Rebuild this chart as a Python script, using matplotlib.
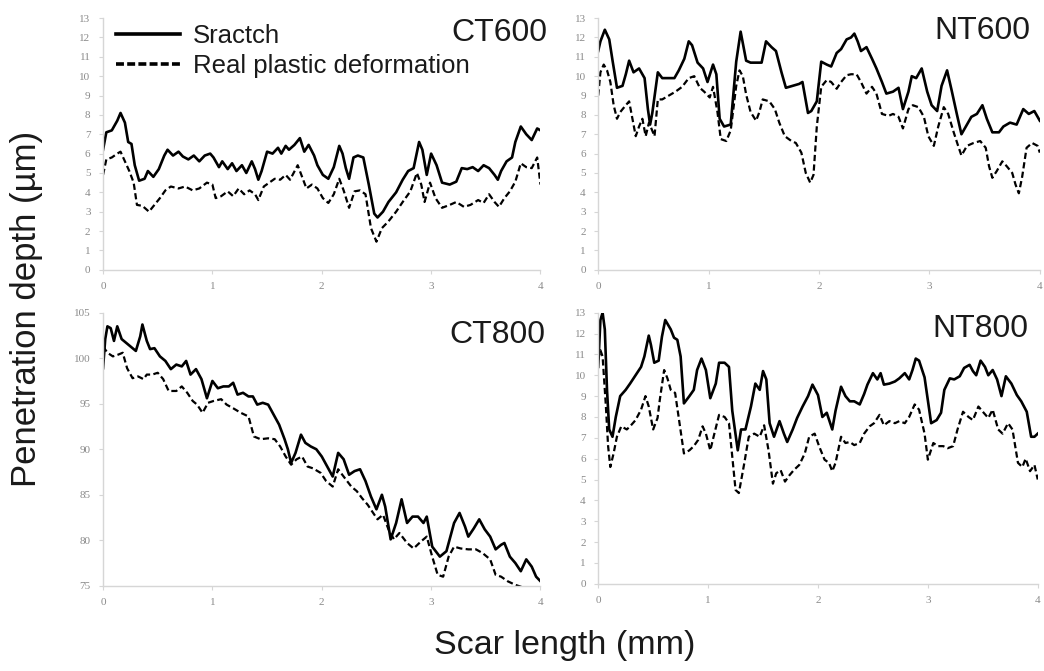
import matplotlib.pyplot as plt
from matplotlib.lines import Line2D

plt.rcParams['font.family'] = ['Liberation Sans', 'DejaVu Sans']

# CT600
ct600_x_s = [0.00, 0.03, 0.08, 0.13, 0.16, 0.20, 0.23, 0.26, 0.29, 0.33, 0.38, 0.41, 0.46, 0.51, 0.56, 0.59, 0.64, 0.69,
             0.73, 0.78, 0.83, 0.88, 0.93, 0.98, 1.01, 1.06, 1.09, 1.14, 1.18, 1.22, 1.27, 1.31, 1.36, 1.39, 1.42, 1.45,
             1.50, 1.55, 1.60, 1.63, 1.67, 1.70, 1.75, 1.80, 1.84, 1.88, 1.93, 1.96, 2.01, 2.06, 2.11, 2.16, 2.19, 2.22,
             2.25, 2.29, 2.33, 2.38, 2.43, 2.48, 2.51, 2.56, 2.61, 2.68, 2.74, 2.79, 2.84, 2.89, 2.92, 2.96, 3.00, 3.05,
             3.10, 3.17, 3.23, 3.28, 3.33, 3.38, 3.43, 3.48, 3.53, 3.58, 3.61, 3.64, 3.69, 3.74, 3.77, 3.82, 3.87, 3.92,
             3.97, 4.00]
ct600_y_s = [6.2, 7.1, 7.2, 7.7, 8.1, 7.6, 6.6, 6.5, 5.4, 4.6, 4.7, 5.1, 4.8, 5.2, 5.9, 6.2, 5.9, 6.1,
             5.85, 5.7, 5.9, 5.6, 5.9, 6.0, 5.8, 5.3, 5.6, 5.2, 5.5, 5.1, 5.4, 5.0, 5.6, 5.2, 4.65, 5.1,
             6.1, 6.0, 6.3, 6.0, 6.4, 6.2, 6.45, 6.8, 6.1, 6.45, 5.9, 5.4, 4.9, 4.7, 5.3, 6.4, 6.0, 5.25,
             4.7, 5.8, 5.9, 5.8, 4.4, 2.9, 2.7, 3.0, 3.5, 4.0, 4.65, 5.1, 5.25, 6.6, 6.2, 4.9, 6.0, 5.4,
             4.5, 4.4, 4.55, 5.25, 5.2, 5.3, 5.1, 5.4, 5.25, 4.9, 4.65, 5.1, 5.6, 5.8, 6.6, 7.4, 7.0, 6.7,
             7.3, 7.2]
ct600_x_d = [0.00, 0.03, 0.08, 0.13, 0.16, 0.20, 0.24, 0.28, 0.31, 0.36, 0.42, 0.47, 0.52, 0.57, 0.62, 0.69, 0.75, 0.82,
             0.88, 0.95, 1.00, 1.03, 1.08, 1.14, 1.19, 1.24, 1.29, 1.34, 1.39, 1.42, 1.47, 1.52, 1.57, 1.62, 1.67, 1.71,
             1.78, 1.83, 1.86, 1.91, 1.96, 2.01, 2.06, 2.11, 2.16, 2.20, 2.25, 2.30, 2.35, 2.40, 2.45, 2.50, 2.55, 2.61,
             2.68, 2.74, 2.81, 2.87, 2.91, 2.94, 2.99, 3.04, 3.10, 3.17, 3.23, 3.30, 3.36, 3.43, 3.48, 3.53, 3.58, 3.62,
             3.67, 3.72, 3.77, 3.82, 3.87, 3.92, 3.97, 4.00]
ct600_y_d = [4.9, 5.7, 5.8, 6.0, 6.1, 5.6, 5.1, 4.5, 3.35, 3.3, 3.0, 3.35, 3.7, 4.1, 4.3, 4.2, 4.3, 4.1,
             4.2, 4.5, 4.4, 3.7, 3.8, 4.05, 3.8, 4.2, 3.9, 4.1, 3.9, 3.6, 4.3, 4.5, 4.7, 4.65, 4.9, 4.65,
             5.4, 4.65, 4.2, 4.4, 4.2, 3.7, 3.45, 3.9, 4.7, 4.1, 3.2, 4.05, 4.1, 3.9, 2.15, 1.45, 2.15, 2.5,
             3.0, 3.5, 4.05, 5.0, 4.4, 3.5, 4.5, 3.7, 3.2, 3.35, 3.5, 3.25, 3.35, 3.6, 3.45, 3.9, 3.5, 3.25,
             3.7, 4.05, 4.55, 5.5, 5.3, 5.25, 5.8, 4.4]

# NT600
nt600_x_s = [0.00, 0.02, 0.06, 0.10, 0.13, 0.17, 0.22, 0.25, 0.28, 0.32, 0.37, 0.42, 0.45, 0.47, 0.49, 0.54, 0.58, 0.64,
             0.69, 0.73, 0.78, 0.82, 0.85, 0.90, 0.95, 0.99, 1.04, 1.07, 1.10, 1.14, 1.20, 1.25, 1.29, 1.34, 1.38, 1.45,
             1.48, 1.52, 1.57, 1.61, 1.66, 1.70, 1.76, 1.82, 1.85, 1.90, 1.93, 1.98, 2.02, 2.07, 2.11, 2.16, 2.20, 2.25,
             2.29, 2.32, 2.35, 2.38, 2.43, 2.48, 2.52, 2.57, 2.61, 2.67, 2.72, 2.76, 2.81, 2.84, 2.88, 2.93, 2.98, 3.02,
             3.07, 3.11, 3.16, 3.20, 3.25, 3.29, 3.34, 3.38, 3.43, 3.48, 3.52, 3.57, 3.63, 3.67, 3.73, 3.79, 3.85, 3.90,
             3.95, 4.00]
nt600_y_s = [11.3, 11.8, 12.4, 11.9, 10.8, 9.4, 9.5, 10.1, 10.8, 10.2, 10.4, 9.9, 8.3, 7.5, 8.1, 10.2, 9.9, 9.9,
             9.9, 10.3, 10.9, 11.8, 11.6, 10.7, 10.4, 9.7, 10.6, 10.1, 7.8, 7.4, 7.5, 10.75, 12.3, 10.8, 10.7, 10.7,
             10.7, 11.8, 11.5, 11.3, 10.2, 9.4, 9.5, 9.6, 9.7, 8.1, 8.2, 8.7, 10.75, 10.6, 10.5, 11.2, 11.4, 11.9,
             12.0, 12.2, 11.8, 11.3, 11.5, 10.9, 10.4, 9.7, 9.1, 9.2, 9.4, 8.3, 9.2, 10.0, 9.9, 10.4, 9.2, 8.5,
             8.2, 9.5, 10.3, 9.3, 8.0, 7.0, 7.5, 7.9, 8.05, 8.5, 7.8, 7.1, 7.1, 7.4, 7.6, 7.5, 8.3, 8.05,
             8.2, 7.7]
nt600_x_d = [0.00, 0.02, 0.05, 0.08, 0.11, 0.14, 0.17, 0.20, 0.25, 0.28, 0.31, 0.34, 0.37, 0.40, 0.43, 0.46, 0.51, 0.54,
             0.58, 0.64, 0.70, 0.76, 0.82, 0.87, 0.92, 0.96, 1.01, 1.04, 1.08, 1.11, 1.16, 1.20, 1.25, 1.28, 1.31, 1.34,
             1.38, 1.43, 1.46, 1.49, 1.55, 1.60, 1.64, 1.69, 1.75, 1.79, 1.84, 1.88, 1.92, 1.95, 1.98, 2.02, 2.07, 2.11,
             2.16, 2.20, 2.25, 2.29, 2.34, 2.38, 2.43, 2.48, 2.52, 2.57, 2.63, 2.67, 2.72, 2.76, 2.81, 2.85, 2.90, 2.95,
             2.99, 3.04, 3.08, 3.13, 3.17, 3.22, 3.26, 3.29, 3.34, 3.40, 3.46, 3.51, 3.54, 3.57, 3.61, 3.66, 3.70, 3.75,
             3.78, 3.81, 3.84, 3.88, 3.93, 3.98, 4.00]
nt600_y_d = [9.0, 10.2, 10.6, 10.3, 9.7, 8.5, 7.8, 8.15, 8.5, 8.7, 7.8, 6.9, 7.4, 7.8, 6.9, 7.6, 6.9, 8.8,
             8.8, 9.0, 9.2, 9.45, 9.9, 10.0, 9.4, 9.2, 8.9, 9.45, 8.15, 6.75, 6.65, 7.2, 9.5, 10.3, 10.0, 9.05,
             8.15, 7.7, 8.15, 8.8, 8.7, 8.3, 7.6, 6.9, 6.65, 6.55, 6.05, 5.0, 4.5, 4.9, 7.4, 9.45, 9.8, 9.7,
             9.35, 9.7, 10.05, 10.1, 10.1, 9.7, 9.1, 9.45, 9.1, 8.05, 7.95, 8.05, 7.9, 7.3, 8.3, 8.5, 8.4, 7.9,
             6.9, 6.4, 7.4, 8.4, 8.05, 7.1, 6.4, 5.9, 6.4, 6.55, 6.65, 6.3, 5.35, 4.75, 5.1, 5.6, 5.35, 5.0,
             4.4, 3.95, 4.8, 6.3, 6.55, 6.4, 6.05]

# CT800
ct800_x_s = [0.00, 0.02, 0.04, 0.07, 0.10, 0.13, 0.17, 0.21, 0.25, 0.30, 0.34, 0.36, 0.40, 0.43, 0.47, 0.52, 0.57, 0.62,
             0.67, 0.72, 0.76, 0.80, 0.85, 0.90, 0.95, 1.00, 1.05, 1.10, 1.15, 1.19, 1.23, 1.28, 1.33, 1.37, 1.41, 1.46,
             1.51, 1.56, 1.61, 1.66, 1.69, 1.72, 1.76, 1.81, 1.85, 1.90, 1.95, 2.00, 2.05, 2.10, 2.15, 2.20, 2.25, 2.30,
             2.35, 2.40, 2.45, 2.50, 2.55, 2.58, 2.63, 2.68, 2.73, 2.78, 2.83, 2.88, 2.93, 2.96, 3.01, 3.08, 3.14, 3.21,
             3.26, 3.31, 3.34, 3.39, 3.44, 3.49, 3.54, 3.59, 3.64, 3.67, 3.72, 3.77, 3.82, 3.87, 3.92, 3.96, 4.00]
ct800_y_s = [98.9, 102.1, 103.5, 103.3, 101.9, 103.5, 102.1, 101.7, 101.3, 100.8, 102.4, 103.7, 101.9, 101.0, 101.1,
             100.2, 99.7, 98.8, 99.3, 99.1, 99.7, 98.2, 98.8, 97.7, 95.6, 97.5, 96.7, 96.9, 96.9, 97.3, 96.0, 96.2,
             95.8, 95.8, 94.9, 95.1, 94.9, 93.8, 92.7, 91.1, 90.0, 88.5, 89.6, 91.6, 90.7, 90.3, 90.0, 89.2, 88.1,
             87.0, 89.6, 88.9, 87.2, 87.6, 87.8, 86.5, 84.8, 83.4, 85.0, 83.7, 80.1, 81.9, 84.5, 81.9, 82.6, 82.6,
             81.9, 82.6, 79.3, 78.2, 78.8, 81.9, 83.0, 81.5, 80.4, 81.3, 82.3, 81.2, 80.4, 79.0, 79.5, 79.7, 78.2,
             77.5, 76.6, 77.9, 77.1, 76.0, 75.5]
ct800_x_d = [0.00, 0.04, 0.09, 0.14, 0.18, 0.22, 0.27, 0.32, 0.37, 0.40, 0.45, 0.50, 0.55, 0.60, 0.67, 0.72, 0.77, 0.82,
             0.86, 0.91, 0.96, 1.01, 1.08, 1.13, 1.19, 1.26, 1.33, 1.38, 1.44, 1.51, 1.57, 1.62, 1.67, 1.72, 1.77, 1.82,
             1.87, 1.92, 1.99, 2.04, 2.10, 2.15, 2.20, 2.27, 2.32, 2.37, 2.42, 2.47, 2.51, 2.56, 2.61, 2.66, 2.71, 2.78,
             2.84, 2.91, 2.96, 3.01, 3.06, 3.11, 3.16, 3.21, 3.27, 3.34, 3.41, 3.47, 3.54, 3.59, 3.64, 3.70, 3.77, 3.82,
             4.00]
ct800_y_d = [101.3, 100.6, 100.2, 100.4, 100.6, 98.9, 97.8, 98.0, 97.7, 98.2, 98.2, 98.4, 97.7, 96.4, 96.4, 96.9,
             96.2, 95.3, 94.9, 94.0, 95.1, 95.3, 95.5, 94.9, 94.5, 94.0, 93.6, 91.4, 91.1, 91.2, 91.1, 90.3, 89.2,
             88.3, 88.9, 89.2, 88.1, 87.9, 87.4, 86.5, 85.9, 87.8, 87.0, 85.9, 85.4, 84.6, 83.9, 83.0, 82.3, 82.8,
             81.2, 80.1, 80.8, 79.7, 79.1, 79.9, 80.4, 78.2, 76.2, 76.0, 78.2, 79.3, 79.1, 79.0, 79.0, 78.6, 77.9,
             76.2, 76.0, 75.5, 75.1, 74.9, 74.0]

# NT800
nt800_x_s = [0.00, 0.02, 0.04, 0.06, 0.08, 0.10, 0.13, 0.16, 0.20, 0.25, 0.29, 0.34, 0.39, 0.42, 0.46, 0.48, 0.51, 0.55,
             0.58, 0.61, 0.66, 0.69, 0.72, 0.75, 0.78, 0.83, 0.87, 0.90, 0.94, 0.98, 1.02, 1.07, 1.10, 1.15, 1.19, 1.22,
             1.27, 1.30, 1.34, 1.39, 1.43, 1.47, 1.50, 1.53, 1.56, 1.60, 1.65, 1.69, 1.72, 1.77, 1.81, 1.86, 1.91, 1.95,
             2.00, 2.04, 2.08, 2.13, 2.16, 2.21, 2.25, 2.29, 2.33, 2.38, 2.42, 2.45, 2.50, 2.54, 2.57, 2.60, 2.65, 2.70,
             2.74, 2.79, 2.83, 2.86, 2.89, 2.92, 2.97, 3.00, 3.03, 3.08, 3.12, 3.15, 3.20, 3.24, 3.29, 3.33, 3.38, 3.41,
             3.44, 3.48, 3.52, 3.55, 3.59, 3.63, 3.67, 3.71, 3.76, 3.81, 3.85, 3.90, 3.94, 3.97, 4.00]
nt800_y_s = [10.4, 12.65, 13.0, 12.2, 9.3, 7.4, 7.05, 8.0, 9.0, 9.3, 9.6, 10.0, 10.4, 10.9, 11.9, 11.45, 10.6, 10.7,
             11.85, 12.65, 12.2, 11.8, 11.7, 10.9, 8.65, 9.0, 9.3, 10.25, 10.8, 10.25, 8.9, 9.6, 10.6, 10.6, 10.4, 8.3,
             6.4, 7.4, 7.4, 8.5, 9.6, 9.3, 10.2, 9.8, 7.7, 7.05, 7.8, 7.2, 6.8, 7.4, 7.95, 8.5, 9.0, 9.55,
             9.05, 8.0, 8.2, 7.4, 8.3, 9.45, 9.0, 8.75, 8.75, 8.6, 9.1, 9.55, 10.1, 9.8, 10.1, 9.55, 9.6, 9.7,
             9.85, 10.1, 9.8, 10.25, 10.8, 10.7, 9.9, 8.8, 7.7, 7.85, 8.2, 9.3, 9.85, 9.8, 9.95, 10.35, 10.5, 10.2,
             10.0, 10.7, 10.4, 10.0, 10.25, 9.8, 9.0, 9.95, 9.6, 9.05, 8.75, 8.25, 7.05, 7.05, 7.2]
nt800_x_d = [0.00, 0.02, 0.04, 0.07, 0.09, 0.11, 0.14, 0.17, 0.21, 0.26, 0.29, 0.34, 0.39, 0.43, 0.46, 0.50, 0.54, 0.56,
             0.60, 0.63, 0.66, 0.70, 0.74, 0.78, 0.83, 0.87, 0.91, 0.95, 0.98, 1.02, 1.05, 1.10, 1.15, 1.19, 1.22, 1.25,
             1.28, 1.33, 1.37, 1.42, 1.47, 1.51, 1.55, 1.59, 1.62, 1.66, 1.70, 1.74, 1.78, 1.83, 1.88, 1.92, 1.97, 2.01,
             2.06, 2.10, 2.13, 2.16, 2.21, 2.25, 2.29, 2.33, 2.38, 2.42, 2.47, 2.51, 2.56, 2.60, 2.65, 2.70, 2.74, 2.79,
             2.83, 2.88, 2.92, 2.97, 3.00, 3.05, 3.09, 3.14, 3.18, 3.23, 3.27, 3.32, 3.37, 3.41, 3.46, 3.50, 3.55, 3.59,
             3.64, 3.68, 3.73, 3.77, 3.82, 3.86, 3.89, 3.93, 3.97, 4.00]
nt800_y_d = [10.75, 11.2, 10.9, 8.5, 6.6, 5.6, 6.25, 7.05, 7.55, 7.4, 7.55, 7.85, 8.35, 9.0, 8.5, 7.4, 7.95, 8.8,
             10.25, 9.85, 9.3, 9.15, 7.7, 6.25, 6.4, 6.6, 6.9, 7.55, 7.2, 6.4, 7.05, 8.1, 8.0, 7.7, 6.1, 4.5,
             4.35, 5.8, 7.05, 7.2, 7.05, 7.6, 6.4, 4.8, 5.3, 5.45, 4.9, 5.2, 5.45, 5.7, 6.25, 7.05, 7.2, 6.6,
             5.95, 5.8, 5.4, 5.8, 7.05, 6.75, 6.8, 6.65, 6.75, 7.2, 7.55, 7.7, 8.1, 7.6, 7.8, 7.7, 7.8, 7.7,
             8.0, 8.6, 8.35, 7.2, 5.95, 6.75, 6.6, 6.6, 6.5, 6.6, 7.4, 8.25, 8.0, 7.85, 8.5, 8.25, 7.95, 8.35,
             7.4, 7.2, 7.7, 7.4, 5.8, 5.6, 6.0, 5.4, 5.7, 5.0]

x_ticks = [0, 1, 2, 3, 4]
x_ticklabels = ["0", "1", "2", "3", "4"]
y_ticks_um = list(range(0, 14))
y_ticks_ct800 = [75, 80, 85, 90, 95, 100, 105]

panels = [
    ("CT600", ct600_x_s, ct600_y_s, ct600_x_d, ct600_y_d, (0, 13), y_ticks_um, [0.0987, 0.598, 0.419, 0.375], 1.016, 1.0),
    ("NT600", nt600_x_s, nt600_y_s, nt600_x_d, nt600_y_d, (0, 13), y_ticks_um, [0.573, 0.598, 0.423, 0.375], 0.978, 1.01),
    ("CT800", ct800_x_s, ct800_y_s, ct800_x_d, ct800_y_d, (75, 105), y_ticks_ct800, [0.0987, 0.127, 0.419, 0.407], 1.012, 0.975),
    ("NT800", nt800_x_s, nt800_y_s, nt800_x_d, nt800_y_d, (0, 13), y_ticks_um, [0.573, 0.130, 0.421, 0.404], 0.978, 0.995),
]

fig = plt.figure(figsize=(10.44, 6.71), dpi=100)

axes = []
for name, xs, ys, xd, yd, ylim, yt, rect, tx, ty in panels:
    ax = fig.add_axes(rect)
    ax.plot(xs, ys, color="black", linewidth=1.9)
    ax.plot(xd, yd, color="black", linewidth=1.6, linestyle=(0, (2.8, 1.5)))
    ax.set_xlim(0, 4)
    ax.set_ylim(*ylim)
    ax.set_xticks(x_ticks)
    ax.set_xticklabels(x_ticklabels)
    ax.set_yticks(yt)
    for s in ["top", "right"]:
        ax.spines[s].set_visible(False)
    for s in ["left", "bottom"]:
        ax.spines[s].set_color("#d6d6d6")
        ax.spines[s].set_linewidth(1.0)
    ax.tick_params(colors="#d6d6d6", labelcolor="#8a8a8a", length=3, width=0.8, pad=6)
    for lab in ax.get_xticklabels() + ax.get_yticklabels():
        lab.set_fontfamily("Liberation Serif")
        lab.set_fontsize(8)
    ax.text(tx, ty, name, transform=ax.transAxes, ha="right", va="top", fontsize=23, color="#1a1a1a")
    axes.append(ax)

handles = [Line2D([], [], color="black", linewidth=2.6),
           Line2D([], [], color="black", linewidth=2.6, linestyle=(0, (2.2, 0.9)))]
axes[0].legend(handles, ["Sractch", "Real plastic deformation"], loc="upper left",
               bbox_to_anchor=(0.03, 0.975), frameon=False, fontsize=18.5,
               handlelength=2.5, handletextpad=0.5, labelspacing=0.2,
               borderpad=0, borderaxespad=0, labelcolor="#1a1a1a")

fig.text(0.025, 0.54, "Penetration depth (µm)", rotation=90, ha="center", va="center", fontsize=25, color="#1a1a1a")
fig.text(0.541, 0.038, "Scar length (mm)", ha="center", va="center", fontsize=24.5, color="#1a1a1a")

fig.savefig("out.png", dpi=100)
